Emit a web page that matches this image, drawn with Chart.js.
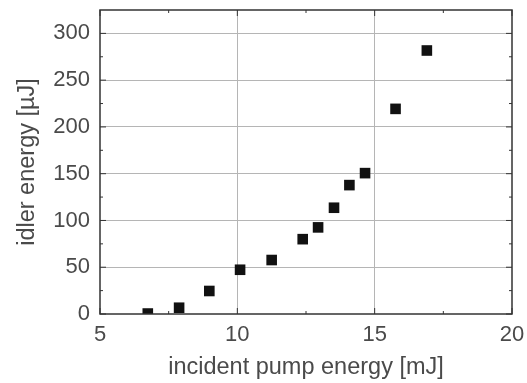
<!DOCTYPE html>
<html>
<head>
<meta charset="utf-8">
<script src="https://cdn.jsdelivr.net/npm/chart.js@4"></script>
<style>
  html, body { margin: 0; padding: 0; background: #fff; }
  #wrap { width: 527px; height: 383px; }
</style>
</head>
<body>
<div id="wrap"><canvas id="idlerChart" width="527" height="383"></canvas></div>
<script>
// pump energy (mJ) vs idler energy (uJ)
const pumpEnergy = [6.74, 7.88, 8.98, 10.1, 11.25, 12.38, 12.94, 13.52, 14.08, 14.65, 15.76, 16.9];
const idlerEnergy = [0.5, 6.7, 24.6, 47.3, 57.7, 80, 92.6, 113.6, 137.8, 150.6, 219.3, 281.7];
const xTicks = [5, 10, 15, 20];
const yTicks = [0, 50, 100, 150, 200, 250, 300];
const xMinor = [7.5, 12.5, 17.5];
const yMinor = [25, 75, 125, 175, 225, 275];

const textColor = "#4a4a4a";
const fontFamily = "'Liberation Sans', Arial, sans-serif";

// frame + inward tick marks, like the original plot
const framePlugin = {
  id: "frame",
  afterDraw(chart) {
    const { ctx, chartArea: a, scales } = chart;
    ctx.save();
    ctx.strokeStyle = "#333";
    ctx.lineWidth = 1.5;
    ctx.strokeRect(a.left, a.top, a.right - a.left, a.bottom - a.top);
    ctx.lineWidth = 1;
    const tick = (len, vals, horiz) => {
      vals.forEach((v) => {
        if (horiz) {
          const x = scales.x.getPixelForValue(v);
          ctx.beginPath();
          ctx.moveTo(x, a.bottom); ctx.lineTo(x, a.bottom - len);
          ctx.moveTo(x, a.top); ctx.lineTo(x, a.top + len);
          ctx.stroke();
        } else {
          const y = scales.y.getPixelForValue(v);
          ctx.beginPath();
          ctx.moveTo(a.left, y); ctx.lineTo(a.left + len, y);
          ctx.moveTo(a.right, y); ctx.lineTo(a.right - len, y);
          ctx.stroke();
        }
      });
    };
    tick(6, xTicks, true);
    tick(3, xMinor, true);
    tick(6, yTicks, false);
    tick(3, yMinor, false);
    ctx.restore();
  },
};

const ctx = document.getElementById("idlerChart").getContext("2d");
const idlerChart = new Chart(ctx, {
  type: "scatter",
  data: {
    datasets: [
      {
        data: pumpEnergy.map((x, i) => ({ x: x, y: idlerEnergy[i] })),
        pointStyle: "rect",
        pointRadius: 7.5,
        backgroundColor: "#111",
        borderColor: "#111",
        borderWidth: 0,
      },
    ],
  },
  options: {
    responsive: false,
    animation: false,
    layout: { padding: { top: 10, right: 15, left: 0, bottom: 0 } },
    plugins: { legend: { display: false }, tooltip: { enabled: false } },
    scales: {
      x: {
        type: "linear",
        min: 5,
        max: 20,
        afterBuildTicks: (axis) => { axis.ticks = xTicks.map((v) => ({ value: v })); },
        afterFit: (axis) => {
          axis.height = 69;
          axis.paddingLeft = 0;
          axis.paddingRight = 0;
        },
        grid: {
          drawTicks: false,
          color: (c) => (c.tick && (c.tick.value === 10 || c.tick.value === 15) ? "#b5b5b5" : "rgba(0,0,0,0)"),
          lineWidth: 1,
        },
        border: { display: false },
        ticks: { padding: 8, color: textColor, font: { family: fontFamily, size: 22 } },
        title: {
          display: true,
          text: "incident pump energy [mJ]",
          color: textColor,
          font: { family: fontFamily, size: 23.5 },
          padding: { top: 0, bottom: 1 },
        },
      },
      y: {
        min: 0,
        max: 325,
        afterBuildTicks: (axis) => { axis.ticks = yTicks.map((v) => ({ value: v })); },
        afterFit: (axis) => {
          axis.width = 100;
          axis.paddingTop = 0;
          axis.paddingBottom = 0;
        },
        grid: {
          drawTicks: false,
          color: (c) => (c.tick && c.tick.value > 0 ? "#b5b5b5" : "rgba(0,0,0,0)"),
          lineWidth: 1,
        },
        border: { display: false },
        ticks: { padding: 10, color: textColor, font: { family: fontFamily, size: 22 } },
        title: {
          display: true,
          text: "idler energy [µJ]",
          color: textColor,
          font: { family: fontFamily, size: 23.5 },
          padding: { top: 13, bottom: 0 },
        },
      },
    },
  },
  plugins: [framePlugin],
});
</script>
</body>
</html>
